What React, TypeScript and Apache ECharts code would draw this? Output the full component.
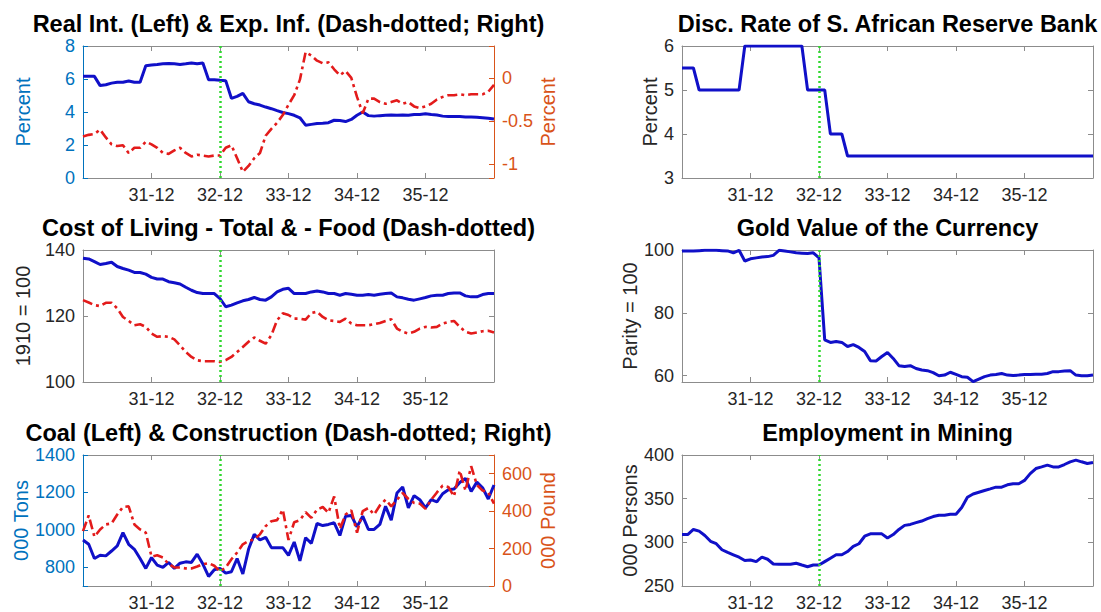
import React, { useEffect, useRef } from 'react';
import * as echarts from 'echarts';

// ---------- categories ----------
const MONTHS: string[] = (() => {
  const out: string[] = [];
  for (let k = 0; k <= 72; k++) {
    const m = ((11 + k) % 12) + 1;
    const y = 30 + Math.floor((11 + k) / 12);
    out.push(`${y}-${String(m).padStart(2, '0')}`);
  }
  return out;
})();
const TICK_LABELS = ['31-12', '32-12', '33-12', '34-12', '35-12'];
const BREAK_MONTH = '32-12';

// ---------- series values ----------
const REAL_INTEREST = [
  6.16, 6.16, 6.16, 5.6, 5.65, 5.75, 5.8, 5.8, 5.88, 5.8,
  5.8, 6.8, 6.85, 6.88, 6.92, 6.94, 6.92, 6.88, 6.92, 6.97,
  6.92, 6.97, 5.95, 5.95, 5.92, 5.9, 4.83, 4.95, 5.13, 4.62,
  4.5, 4.42, 4.3, 4.2, 4.08, 3.97, 3.9, 3.8, 3.65, 3.2,
  3.25, 3.3, 3.32, 3.35, 3.5, 3.48, 3.42, 3.55, 3.8, 4.0,
  3.78, 3.75, 3.78, 3.8, 3.82, 3.8, 3.82, 3.8, 3.85, 3.85,
  3.9, 3.85, 3.82, 3.75, 3.73, 3.73, 3.72, 3.7, 3.7, 3.68,
  3.65, 3.62, 3.57,
];
const EXP_INFLATION = [
  -0.68, -0.66, -0.65, -0.6, -0.69, -0.77, -0.79, -0.78, -0.87, -0.81,
  -0.81, -0.74, -0.77, -0.81, -0.87, -0.88, -0.84, -0.81, -0.87, -0.91,
  -0.89, -0.9, -0.91, -0.9, -0.9, -0.81, -0.78, -0.93, -1.09, -1.02,
  -0.93, -0.87, -0.67, -0.59, -0.52, -0.43, -0.31, -0.2, -0.02, 0.3,
  0.26, 0.2, 0.17, 0.18, 0.1, 0.03, 0.08, 0.0, -0.22, -0.41,
  -0.24, -0.24, -0.28, -0.3, -0.28, -0.26, -0.3, -0.28, -0.33, -0.35,
  -0.33, -0.3, -0.25, -0.22, -0.2, -0.2, -0.19, -0.2, -0.19, -0.19,
  -0.19, -0.16, -0.08,
];
const DISC_RATE = [
  5.5, 5.5, 5.5, 5, 5, 5, 5, 5, 5, 5,
  5, 6, 6, 6, 6, 6, 6, 6, 6, 6,
  6, 6, 5, 5, 5, 5, 4, 4, 4, 3.5,
  3.5, 3.5, 3.5, 3.5, 3.5, 3.5, 3.5, 3.5, 3.5, 3.5,
  3.5, 3.5, 3.5, 3.5, 3.5, 3.5, 3.5, 3.5, 3.5, 3.5,
  3.5, 3.5, 3.5, 3.5, 3.5, 3.5, 3.5, 3.5, 3.5, 3.5,
  3.5, 3.5, 3.5, 3.5, 3.5, 3.5, 3.5, 3.5, 3.5, 3.5,
  3.5, 3.5, 3.5,
];
const COL_TOTAL = [
  137.5, 137.3, 136.5, 135.6, 135.9, 136.3, 135, 134.4, 133.9, 133.2,
  133.2, 132.7, 131.7, 131.2, 131.2, 130.4, 130.1, 129.7, 128.7, 127.8,
  127.1, 126.8, 126.8, 126.8, 125.3, 122.8, 123.3, 124, 124.6, 125,
  125.6, 125, 124.8, 125.8, 127.3, 128.1, 128.4, 126.8, 126.8, 126.8,
  127.3, 127.6, 127.3, 126.8, 126.8, 126.3, 126.8, 126.6, 126.3, 126.3,
  126.5, 126.3, 126.6, 126.8, 127.0, 125.8, 125.5, 125.1, 124.8, 125.2,
  125.6, 126.1, 126.3, 126.3, 126.8, 127.0, 127.0, 126.1, 125.8, 125.8,
  126.5, 126.8, 126.8,
];
const COL_FOOD = [
  124.8, 124.1, 123.3, 123, 124, 124, 122.3, 119.7, 118.5, 117.2,
  117.5, 116.7, 114.7, 113.7, 113.9, 113.7, 112.9, 111.1, 109.1, 107.6,
  106.6, 106.3, 106.3, 106.3, 106.1, 106.6, 107.6, 109.1, 110.6, 112.2,
  113.5, 112.5, 111.6, 114.2, 118.7, 120.8, 120.3, 119.2, 119.2, 118.9,
  120.9, 121.3, 119.7, 118.7, 118.5, 118.2, 119.2, 117.7, 117.2, 117.2,
  117.2, 117.5, 117.9, 118.5, 119, 116.2, 115.2, 114.7, 115.2, 116.2,
  116.7, 116.5, 116.7, 117.7, 118.2, 118.5, 116.7, 115.2, 114.7, 115,
  115.4, 115.5, 115,
];
const GOLD_VALUE = [
  99.7, 99.7, 99.7, 99.8, 99.9, 99.9, 99.9, 99.8, 99.7, 99.1,
  99.9, 96.5, 97.2, 97.5, 97.8, 97.9, 98.3, 99.9, 99.7, 99.4,
  99.1, 99.0, 98.9, 99.1, 97.5, 71.4, 70.6, 70.9, 70.6, 69.3,
  69.9, 69.0, 67.7, 64.8, 64.7, 66.1, 67.4, 65.5, 63.2, 62.9,
  63.2, 62.3, 61.8, 61.6, 61.0, 60.0, 60.2, 61.1, 60.4, 59.7,
  59.5, 58.1, 58.9, 59.7, 60.2, 60.4, 60.7, 60.2, 60.1, 60.2,
  60.4, 60.4, 60.5, 60.5, 60.7, 61.3, 61.3, 61.5, 61.6, 60.2,
  60.0, 60.0, 60.2,
];
const COAL = [
  946, 923, 847, 864, 861, 887, 914, 985, 923, 896,
  847, 794, 852, 811, 799, 826, 794, 822, 829, 826,
  870, 817, 751, 787, 794, 769, 776, 847, 764, 896,
  976, 946, 960, 905, 905, 905, 864, 935, 834, 958,
  928, 1034, 1023, 1029, 1038, 970, 1073, 1077, 1016, 1073,
  1002, 1002, 1029, 1126, 1052, 1197, 1229, 1117, 1183, 1161,
  1117, 1161, 1149, 1193, 1214, 1218, 1253, 1275, 1205, 1255,
  1225, 1165, 1240,
];
const CONSTRUCTION = [
  293, 377, 263, 302, 329, 334, 382, 422, 426, 329,
  302, 285, 157, 164, 152, 117, 99, 99, 94, 94,
  104, 117, 122, 108, 78, 99, 143, 179, 223, 240,
  249, 276, 320, 346, 352, 408, 246, 341, 352, 394,
  364, 408, 422, 391, 479, 306, 382, 405, 285, 400,
  417, 382, 430, 461, 426, 461, 497, 465, 444, 440,
  412, 461, 500, 536, 529, 479, 617, 510, 640, 540,
  510, 500, 440,
];
const MINING_EMPLOYMENT = [
  308.9, 308.9, 314.7, 312.8, 307.8, 301.2, 298.4, 291.5, 288.4, 285.7,
  283, 279.1, 279.8, 277.9, 283, 280.6, 275.2, 274.8, 274.8, 274.8,
  276, 274, 272.1, 274, 274, 277.9, 281.8, 285.7, 285.7, 289.5,
  295.3, 298.4, 307, 309.7, 309.7, 309.7, 305, 308.9, 314.7, 319.4,
  320.5, 322.5, 324.4, 327.1, 329.5, 331, 331, 332.2, 332.2, 339.9,
  351.6, 355.4, 357.4, 359.3, 361.2, 363.2, 363.2, 365.9, 367.1, 367.1,
  370.9, 378.7, 384.5, 386.4, 388.4, 386.4, 386.4, 389.1, 392.2, 394.2,
  392.2, 390.3, 391.5,
];

// ---------- style ----------
const FONT = '"Liberation Sans", Arial, Helvetica, sans-serif';
const AX_GRAY = '#8c8c8c';
const TICK_TXT = '#262626';
const BLUE_AX = '#0072BD';
const ORANGE_AX = '#D95319';
const LINE_BLUE = '#1010c8';
const LINE_RED = '#e31b1b';
const GREEN = '#2fd82f';

const COLS = [83, 682];
const ROWS = [46, 250, 455];
const W = 411;
const H = 132;

const multipleOf = (step: number) => (v: number) => {
  const r = v / step;
  if (Math.abs(r - Math.round(r)) >= 1e-6) return '';
  const val = +(Math.round(r) * step).toFixed(4);
  return String(val === 0 ? 0 : val);
};

type YSpec = {
  min: number;
  max: number;
  interval?: number;
  splitNumber?: number;
  step: number;
  name?: string;
  nameGap?: number;
  color?: string;
};

type Panel = {
  title: string;
  col: number;
  row: number;
  left: YSpec;
  right?: YSpec;
  series: { data: number[]; axis: 'left' | 'right'; red?: boolean }[];
};

const PANELS: Panel[] = [
  {
    title: 'Real Int. (Left) & Exp. Inf. (Dash-dotted; Right)',
    col: 0, row: 0,
    left: { min: 0, max: 8, interval: 2, step: 2, name: 'Percent', nameGap: 50, color: BLUE_AX },
    right: { min: -1.16, max: 0.37, splitNumber: 3, step: 0.5, name: 'Percent', nameGap: 44, color: ORANGE_AX },
    series: [
      { data: REAL_INTEREST, axis: 'left' },
      { data: EXP_INFLATION, axis: 'right', red: true },
    ],
  },
  {
    title: 'Disc. Rate of S. African Reserve Bank',
    col: 1, row: 0,
    left: { min: 3, max: 6, interval: 1, step: 1, name: 'Percent', nameGap: 21 },
    series: [{ data: DISC_RATE, axis: 'left' }],
  },
  {
    title: 'Cost of Living - Total & - Food (Dash-dotted)',
    col: 0, row: 1,
    left: { min: 100, max: 140, interval: 20, step: 20, name: '1910 = 100', nameGap: 50 },
    series: [
      { data: COL_TOTAL, axis: 'left' },
      { data: COL_FOOD, axis: 'left', red: true },
    ],
  },
  {
    title: 'Gold Value of the Currency',
    col: 1, row: 1,
    left: { min: 58, max: 100, splitNumber: 2, step: 20, name: 'Parity = 100', nameGap: 41 },
    series: [{ data: GOLD_VALUE, axis: 'left' }],
  },
  {
    title: 'Coal (Left) & Construction (Dash-dotted; Right)',
    col: 0, row: 2,
    left: { min: 700, max: 1400, splitNumber: 4, step: 200, name: '000 Tons', nameGap: 50, color: BLUE_AX },
    right: { min: 0, max: 700, interval: 200, step: 200, name: '000 Pound', nameGap: 44, color: ORANGE_AX },
    series: [
      { data: COAL, axis: 'left' },
      { data: CONSTRUCTION, axis: 'right', red: true },
    ],
  },
  {
    title: 'Employment in Mining',
    col: 1, row: 2,
    left: { min: 250, max: 400, interval: 50, step: 50, name: '000 Persons', nameGap: 41 },
    series: [{ data: MINING_EMPLOYMENT, axis: 'left' }],
  },
];

const tickFilter = (_i: number, value: string) => TICK_LABELS.indexOf(value) >= 0;

function buildOption() {
  const grids: any[] = [];
  const xAxes: any[] = [];
  const yAxes: any[] = [];
  const series: any[] = [];
  const titles: any[] = [];

  PANELS.forEach((p, g) => {
    const left = COLS[p.col];
    const top = ROWS[p.row];
    grids.push({ left, top, width: W, height: H, containLabel: false });
    titles.push({
      text: p.title,
      left: left + W / 2,
      top: top - 34,
      textAlign: 'center',
      padding: 0,
      textStyle: { fontSize: 23.5, fontWeight: 'bold', color: '#000', fontFamily: FONT, lineHeight: 24 },
    });

    const xBottom = xAxes.length;
    ['bottom', 'top'].forEach((pos) => {
      xAxes.push({
        type: 'category',
        gridIndex: g,
        position: pos,
        data: MONTHS,
        boundaryGap: false,
        axisLine: { show: true, onZero: false, lineStyle: { color: AX_GRAY, width: 1 } },
        axisTick: { show: true, inside: true, length: 5, interval: tickFilter, lineStyle: { color: AX_GRAY } },
        axisLabel: {
          show: pos === 'bottom',
          interval: tickFilter,
          color: TICK_TXT,
          fontSize: 18,
          fontFamily: FONT,
          margin: 8,
        },
        splitLine: { show: false },
      });
    });

    const mkY = (spec: YSpec, position: 'left' | 'right', showLabels: boolean) => {
      const col = spec.color || AX_GRAY;
      const txt = spec.color || TICK_TXT;
      const ax: any = {
        type: 'value',
        gridIndex: g,
        position,
        min: spec.min,
        max: spec.max,
        axisLine: { show: true, onZero: false, lineStyle: { color: col, width: 1 } },
        axisTick: { show: true, inside: true, length: 5, lineStyle: { color: col } },
        axisLabel: {
          show: showLabels,
          color: txt,
          fontSize: 18,
          fontFamily: FONT,
          margin: 8,
          formatter: multipleOf(spec.step),
        },
        splitLine: { show: false },
      };
      if (spec.interval !== undefined) ax.interval = spec.interval;
      if (spec.splitNumber !== undefined) ax.splitNumber = spec.splitNumber;
      if (showLabels && spec.name) {
        ax.name = spec.name;
        ax.nameLocation = 'middle';
        ax.nameGap = spec.nameGap;
        ax.nameTextStyle = { fontSize: 20, color: spec.color || TICK_TXT, fontFamily: FONT };
      }
      return ax;
    };

    const yLeft = yAxes.length;
    yAxes.push(mkY(p.left, 'left', true));
    const yRight = yAxes.length;
    if (p.right) yAxes.push(mkY(p.right, 'right', true));
    else yAxes.push(mkY(p.left, 'right', false));

    p.series.forEach((s, si) => {
      const isLast = si === p.series.length - 1;
      const obj: any = {
        type: 'line',
        xAxisIndex: xBottom,
        yAxisIndex: s.axis === 'left' ? yLeft : yRight,
        data: s.data,
        symbol: 'none',
        showSymbol: false,
        silent: true,
        z: 2 + si,
        lineStyle: s.red
          ? { color: LINE_RED, width: 2.6, type: [10, 4, 3, 4] }
          : { color: LINE_BLUE, width: 3 },
        itemStyle: { color: s.red ? LINE_RED : LINE_BLUE },
      };
      if (isLast) {
        obj.markLine = {
          silent: true,
          symbol: ['none', 'none'],
          label: { show: false },
          lineStyle: { color: GREEN, type: [2, 3], width: 2.5 },
          data: [{ xAxis: BREAK_MONTH }],
          animation: false,
        };
      }
      series.push(obj);
    });
  });

  return {
    animation: false,
    backgroundColor: '#fff',
    title: titles,
    grid: grids,
    xAxis: xAxes,
    yAxis: yAxes,
    series,
  };
}

export default function App() {
  const ref = useRef<HTMLDivElement>(null);
  useEffect(() => {
    if (!ref.current) return;
    const chart = echarts.init(ref.current, undefined, { renderer: 'svg' });
    chart.setOption(buildOption() as any);
    return () => chart.dispose();
  }, []);
  return (
    <div
      ref={ref}
      style={{ position: 'fixed', left: 0, top: 0, width: 1101, height: 612, background: '#fff' }}
    />
  );
}
